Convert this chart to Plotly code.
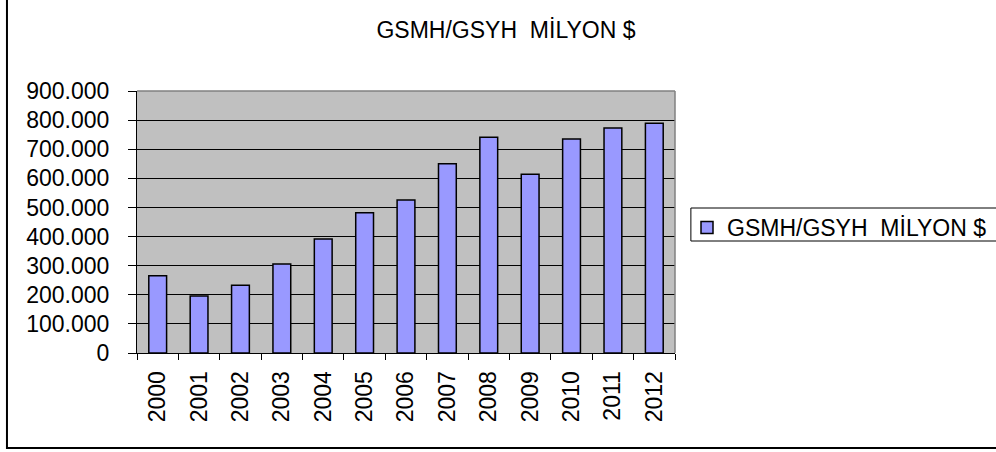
import plotly.graph_objects as go

years = ["2000", "2001", "2002", "2003", "2004", "2005", "2006",
         "2007", "2008", "2009", "2010", "2011", "2012"]
values = [265000, 196000, 232500, 306000, 392000, 482000, 526000,
          650000, 741000, 614000, 735000, 773000, 789000]
series_name = "GSMH/GSYH\u00a0 MİLYON $"
title_text = "GSMH/GSYH\u00a0 MİLYON $"

FONT = "Liberation Sans, Arial, sans-serif"
FS = 23

fig = go.Figure()
fig.add_trace(go.Bar(
    x=years, y=values, name=series_name,
    marker=dict(color="#9999FF", line=dict(color="#000000", width=1.5)),
    showlegend=True,
))

L, R, T, B = 137, 679, 91, 353
W, H = 996, 452
pw, ph = R - L, B - T

def px(x):
    return (x - L) / pw

def py(y):
    return (B - y) / ph

fig.update_layout(
    width=W, height=H,
    margin=dict(l=L, r=W - R, t=T, b=H - B, pad=0),
    paper_bgcolor="white",
    plot_bgcolor="#C0C0C0",
    separators=",.",
    font=dict(family=FONT, size=FS, color="black"),
    title=dict(text=title_text, x=506 / W, xanchor="center",
               y=1 - 30 / H, yanchor="middle",
               font=dict(family=FONT, size=FS, color="black")),
    bargap=0.57,
    showlegend=True,
    legend=dict(xref="container", yref="container",
                x=687 / W, xanchor="left", y=1 - 206 / H, yanchor="top",
                bgcolor="rgba(0,0,0,0)", borderwidth=0,
                font=dict(family=FONT, size=FS, color="black"),
                itemclick=False),
    xaxis=dict(type="category", showgrid=False, showline=True,
               linecolor="black", linewidth=1, ticks="outside",
               tickson="boundaries", ticklen=6, tickcolor="black",
               tickangle=-90, tickfont=dict(family=FONT, size=FS),
               ticklabelstandoff=8),
    yaxis=dict(range=[0, 900000], dtick=100000, tickformat=",d",
               showgrid=True, gridcolor="black", gridwidth=1,
               showline=True, linecolor="black", linewidth=1,
               ticks="outside", ticklen=8, tickcolor="black",
               tickfont=dict(family=FONT, size=FS), zeroline=False,
               ticklabelstandoff=14),
    shapes=[
        dict(type="rect", xref="paper", yref="paper",
             x0=px(6), x1=px(1010), y0=py(448), y1=py(-10),
             line=dict(color="black", width=2), layer="below"),
        dict(type="line", xref="paper", yref="paper",
             x0=0, x1=1, y0=1, y1=1,
             line=dict(color="#808080", width=1.5)),
        dict(type="line", xref="paper", yref="paper",
             x0=1, x1=1, y0=0, y1=1,
             line=dict(color="#808080", width=1.5)),
        dict(type="rect", xref="paper", yref="paper",
             x0=px(695), x1=px(1010), y0=py(241), y1=py(208),
             line=dict(color="black", width=1)),
    ],
)

fig.write_html("out.html",
               config={"displayModeBar": False},
               post_script="document.body.style.margin='0';document.body.style.overflow='hidden';")
